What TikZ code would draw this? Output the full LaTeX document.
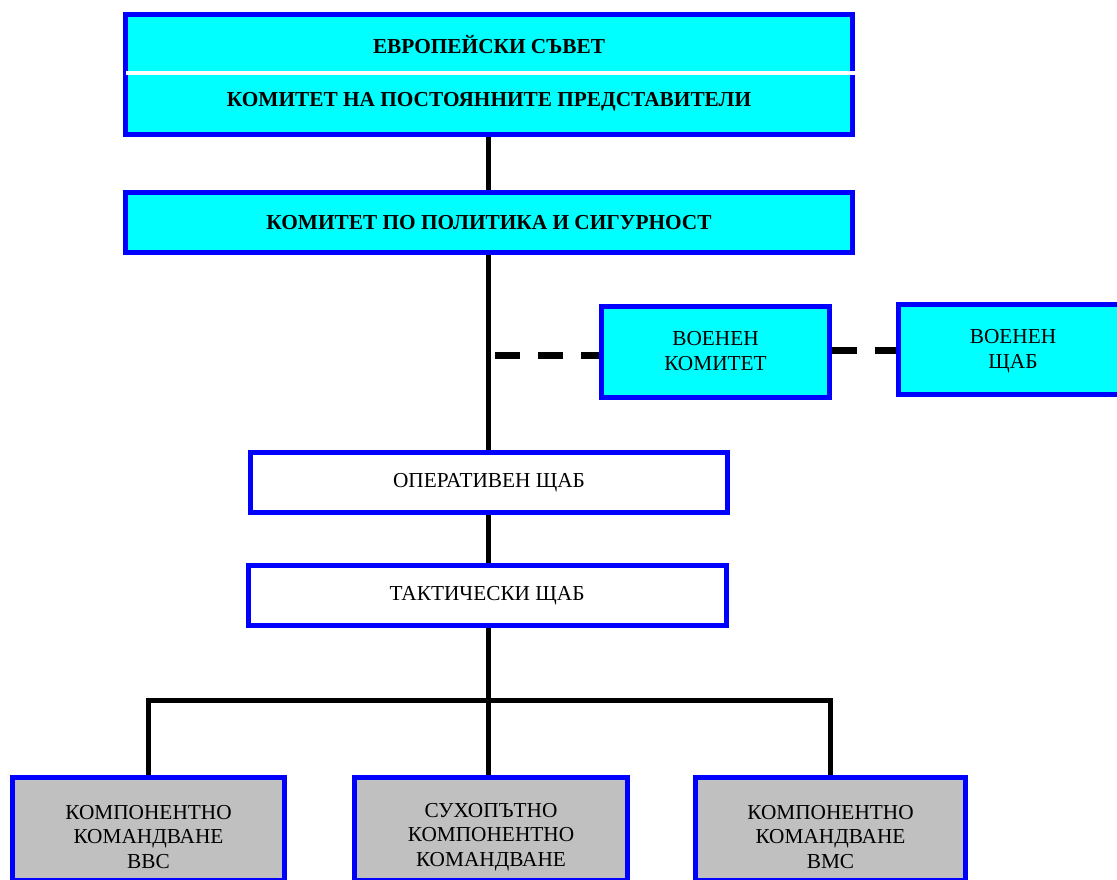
\documentclass[tikz,border=0pt]{standalone}
\usepackage{fontspec}
\setmainfont{Liberation Serif}
\definecolor{boxblue}{RGB}{0,0,255}
\definecolor{boxcyan}{RGB}{0,255,255}
\definecolor{boxgray}{RGB}{192,192,192}
\tikzset{
  orgbox/.style={draw=boxblue, line width=5pt, rectangle, inner sep=0pt, align=center, font=\fontsize{21.3}{24.5}\selectfont},
  cyanbox/.style={orgbox, fill=boxcyan},
  whitebox/.style={orgbox, fill=white},
  graybox/.style={orgbox, fill=boxgray},
  plaintext/.style={inner sep=0pt, align=center, font=\fontsize{21.3}{24.5}\selectfont},
  boldtext/.style={inner sep=0pt, font=\fontsize{21.3}{25}\selectfont\bfseries},
  link/.style={draw=black, line width=5pt},
  dashlink/.style={draw=black, line width=7pt, dash pattern=on 25pt off 18pt}
}
\begin{document}
\begin{tikzpicture}[x=1pt,y=1pt]
\useasboundingbox (0,0) rectangle (1117,-880);
\begin{scope}
\clip (0,0) rectangle (1117,-880);
% top box: European Council / COREPER
\node[cyanbox, minimum width=727pt, minimum height=120pt] (eu) at (489,-74.5) {};
\draw[white, line width=4pt] ([xshift=3pt]eu.west |- 0,-73) coordinate (wl) -- (wl -| eu.east) ;
\node[boldtext] (euc) at (489,-45) {ЕВРОПЕЙСКИ СЪВЕТ};
\node[boldtext] (cpr) at (489,-102) {КОМИТЕТ НА ПОСТОЯННИТЕ ПРЕДСТАВИТЕЛИ};
% PSC
\node[cyanbox, minimum width=727pt, minimum height=60pt, font=\fontsize{21.3}{25}\selectfont\bfseries] (psc) at (489,-222.5) {КОМИТЕТ ПО ПОЛИТИКА И СИГУРНОСТ};
% Military committee and staff
\node[cyanbox, minimum width=228pt, minimum height=91pt] (vk) at (715.5,-352) {};
\node[plaintext, font=\fontsize{21.3}{25}\selectfont] (vkt) at (715.5,-351) {ВОЕНЕН\\КОМИТЕТ};
\node[cyanbox, minimum width=230pt, minimum height=90pt] (vs) at (1013,-349.5) {};
\node[plaintext, font=\fontsize{21.3}{25}\selectfont] (vst) at (1013,-351.5) {ВОЕНЕН\\ЩАБ};
% operational / tactical
\node[whitebox, minimum width=477pt, minimum height=60pt] (os) at (489,-482.5) {ОПЕРАТИВЕН ЩАБ};
\node[whitebox, minimum width=478pt, minimum height=60pt] (ts) at (487,-595.5) {ТАКТИЧЕСКИ ЩАБ};
% component commands
\node[graybox, minimum width=272pt, minimum height=103pt] (b1) at (148.5,-828.5) {};
\node[graybox, minimum width=273pt, minimum height=103pt] (b2) at (491,-828.5) {};
\node[graybox, minimum width=270pt, minimum height=103pt] (b3) at (830.5,-828.5) {};
\node[plaintext, font=\fontsize{21.3}{24.5}\selectfont] (b1t) at (148.5,-837) {КОМПОНЕНТНО\\КОМАНДВАНЕ\\ВВС};
\node[plaintext, font=\fontsize{21.3}{24.5}\selectfont] (b2t) at (491,-837) {СУХОПЪТНО\\КОМПОНЕНТНО\\КОМАНДВАНЕ};
\node[plaintext, font=\fontsize{21.3}{24.5}\selectfont] (b3t) at (830.5,-837) {КОМПОНЕНТНО\\КОМАНДВАНЕ\\ВМС};
% connectors
\coordinate (axis) at (488,0);
\draw[link] (axis |- eu.south) -- (axis |- psc.north);
\draw[link] (axis |- psc.south) -- (axis |- os.north);
\draw[link] (axis |- os.south) -- (axis |- ts.north);
\coordinate (d1) at (495,-355);
\draw[dashlink] (d1) -- (d1 -| vk.west);
\coordinate (d2) at (832,-350);
\draw[dashlink] (d2 -| vk.east) -- (d2 -| vs.west);
\coordinate (bus) at (488,-700);
\draw[link] (axis |- ts.south) -- (axis |- b2.north);
\draw[link] (148,0 |- b1.north) |- (bus) -| (830,0 |- b3.north);
\end{scope}
\end{tikzpicture}
\end{document}
